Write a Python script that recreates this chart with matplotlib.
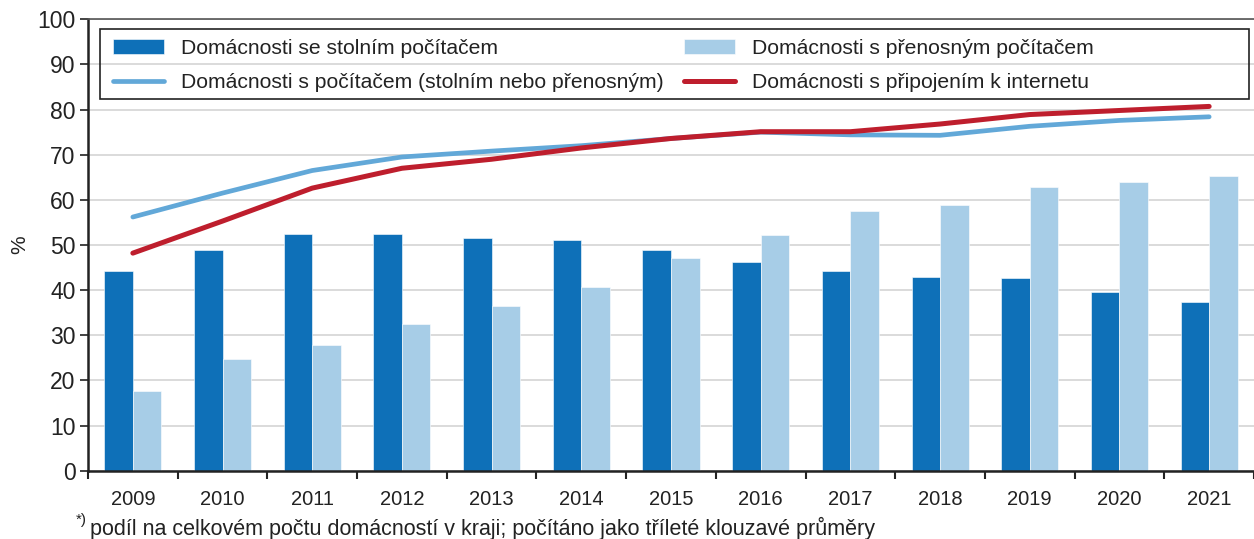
import numpy as np
import matplotlib
matplotlib.use('Agg')
import matplotlib.pyplot as plt
from matplotlib.patches import Rectangle

plt.rcParams['font.family'] = ['Liberation Sans', 'DejaVu Sans']

years = ['2009', '2010', '2011', '2012', '2013', '2014', '2015',
         '2016', '2017', '2018', '2019', '2020', '2021']
desktop = [44.2, 48.9, 52.4, 52.5, 51.5, 51.1, 48.9, 46.3, 44.3, 43.0, 42.8, 39.6, 37.3]
laptop = [17.7, 24.7, 27.9, 32.5, 36.5, 40.6, 47.2, 52.2, 57.6, 58.8, 62.9, 63.9, 65.3]
computer = [56.2, 61.5, 66.5, 69.5, 70.8, 72.0, 73.6, 75.0, 74.4, 74.3, 76.3, 77.6, 78.4]
internet = [48.2, 55.3, 62.6, 67.0, 69.0, 71.5, 73.6, 75.1, 75.1, 76.8, 78.9, 79.8, 80.7]

labels = ['Domácnosti se stolním počítačem',
          'Domácnosti s počítačem (stolním nebo přenosným)',
          'Domácnosti s přenosným počítačem',
          'Domácnosti s připojením k internetu']

c_dark = '#0e70b8'
c_light = '#a7cde7'
c_line = '#62a8d8'
c_red = '#be1e2d'

fig = plt.figure(figsize=(12.54, 5.39), dpi=100)
ax = fig.add_axes([88/1254, 68.3/539, 1166/1254, 451.4/539])

x = np.arange(len(years))
w = 0.318
b1 = ax.bar(x - w/2, desktop, w, color=c_dark, edgecolor='white', linewidth=0.4, zorder=2)
b2 = ax.bar(x + w/2, laptop, w, color=c_light, edgecolor='white', linewidth=0.4, zorder=2)
l1, = ax.plot(x, computer, color=c_line, lw=3.4, solid_capstyle='round', zorder=3)
l2, = ax.plot(x, internet, color=c_red, lw=3.6, solid_capstyle='round', zorder=4)

ax.set_xlim(-0.5, 12.41)
ax.set_ylim(0, 100)
ax.set_yticks(range(0, 101, 10))
ax.yaxis.grid(True, color='#d4d4d4', lw=1.2, zorder=0)
ax.set_axisbelow(True)

ax.set_xticks(x)
ax.set_xticklabels(years)
ax.set_xticks(np.arange(-0.5, 13, 1), minor=True)
ax.tick_params(axis='x', which='major', length=0, pad=14, labelsize=14.5, colors='#222222')
ax.tick_params(axis='x', which='minor', length=6, width=1.5, color='#222222')
ax.tick_params(axis='y', length=6, width=1.2, labelsize=16.5, pad=3, colors='#222222')

for s in ['left', 'bottom']:
    ax.spines[s].set_color('#222222')
    ax.spines[s].set_linewidth(1.8)
ax.spines['top'].set_color('#555555')
ax.spines['top'].set_linewidth(1.2)
ax.spines['right'].set_visible(False)

ax.set_ylabel('%', fontsize=15, color='#222222')
ax.yaxis.set_label_coords(-0.05, 0.5)

ax.add_patch(Rectangle((0.0103, 0.8241), 0.9854, 0.1537, transform=ax.transAxes,
                       fill=False, edgecolor='#222222', lw=1.2, zorder=5))
leg = ax.legend([b1, l1, b2, l2], labels, ncol=2, frameon=False, loc='upper left',
                bbox_to_anchor=(0.0214, 0.956), borderaxespad=0, borderpad=0,
                fontsize=15.2, handlelength=2.4, handletextpad=0.8,
                columnspacing=1.0, labelspacing=0.7)
for t in leg.get_texts():
    t.set_color('#222222')

fig.text(76/1254, 1 - 520/539, '*)', fontsize=11, color='#222222', va='center')
fig.text(90/1254, 1 - 528/539, 'podíl na celkovém počtu domácností v kraji; počítáno jako tříleté klouzavé průměry',
         fontsize=15.5, color='#222222', va='center')

fig.savefig('out.png', dpi=100)
